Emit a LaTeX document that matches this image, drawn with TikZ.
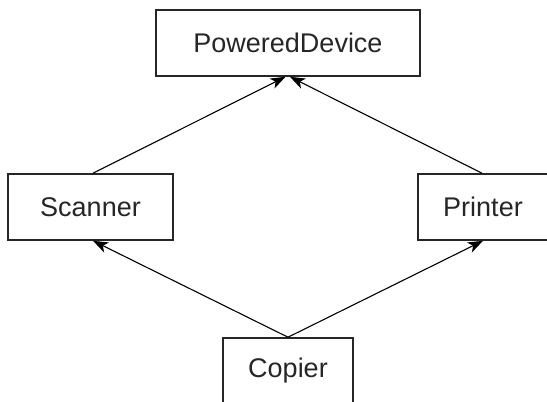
\documentclass[tikz,border=0pt]{standalone}
\usepackage{fontspec}
\setmainfont{Liberation Sans}
\usetikzlibrary{arrows.meta}
\begin{document}
\begin{tikzpicture}[x=1pt,y=-1pt,
  cls/.style={draw=black!85,line width=1.6pt,inner sep=0pt,minimum height=66pt,
    font=\fontsize{27}{30}\selectfont,text=black!85},
  inh/.style={draw=black,line width=1.1pt,-{Stealth[length=15pt,width=11pt,inset=4pt]}}]
\useasboundingbox (0,0) rectangle (547,402);
\clip (0,0) rectangle (547,402);
\fill[white] (0,0) rectangle (547,402);
\node[cls,minimum width=264pt] (pd) at (288,43) {PoweredDevice};
\node[cls,minimum width=165pt] (sc) at (90.5,207) {Scanner};
\node[cls,minimum width=130pt] (pr) at (483,207) {Printer};
\node[cls,minimum width=130pt] (co) at (288,371) {Copier};
\draw[inh] ([xshift=2.5pt]sc.north) -- ([xshift=-2.5pt]pd.south);
\draw[inh] ([xshift=-1pt]pr.north) -- ([xshift=2pt]pd.south);
\draw[inh] (co.north) -- ([xshift=2.5pt]sc.south);
\draw[inh] (co.north) -- (pr.south);
\end{tikzpicture}
\end{document}
